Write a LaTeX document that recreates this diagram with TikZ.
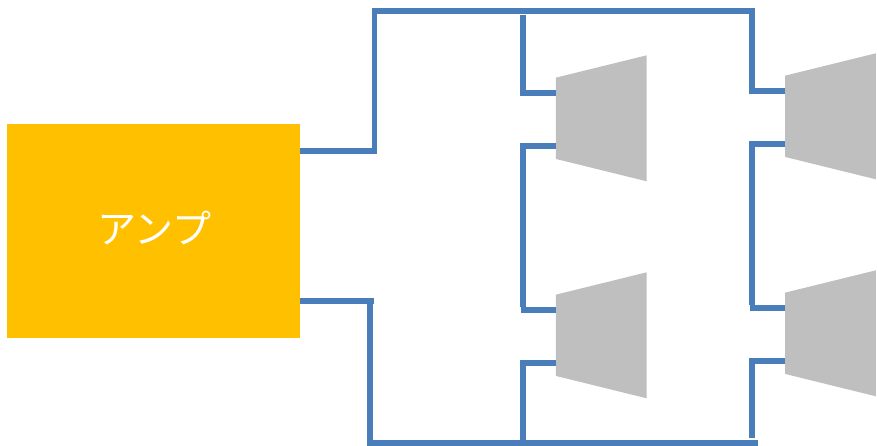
\documentclass[tikz,border=0pt]{standalone}
\usepackage{fontspec}
\newfontfamily\jpfont{Noto Sans CJK JP}
\definecolor{wireblue}{HTML}{4A7EBB}
\definecolor{ampyellow}{HTML}{FFC000}
\definecolor{spkgray}{HTML}{BFBFBF}
\tikzset{
    wire/.style={draw=wireblue, line width=5.5pt},
    ampbox/.style={fill=ampyellow, inner sep=0pt, minimum width=293pt, minimum height=214pt},
    amptext/.style={text=white, inner sep=0pt, font=\jpfont\fontsize{39}{42}\selectfont},
    speaker/.pic={
        \fill[spkgray] (-45.35,-40.65) -- (45.35,-63) -- (45.35,63) -- (-45.35,40.65) -- cycle;
        \coordinate (-a) at (-45.35,-25.3);
        \coordinate (-b) at (-45.35,27.7);
    }
}
\begin{document}
\begin{tikzpicture}[x=1pt, y=-1pt]
            \useasboundingbox (0,0) rectangle (877,446);

            \node[ampbox] (amp) at (153.5,231) {};
            \node[amptext] (amplabel) at (154.5,228) {アンプ};
            \pic (spkul) at (601.3,118.3) {speaker};
            \pic (spkur) at (830.5,116.3) {speaker};
            \pic (spkll) at (601.3,335.3) {speaker};
            \pic (spklr) at (830.5,333.3) {speaker};

            \coordinate (ampa) at (amp.east |- 0,151);
            \coordinate (ampb) at (amp.east |- 0,301);

            \draw[wire] (ampa) -- (374.5,151) -- (374.5,11) -- (752,11) -- (752,91) -- (spkur-a);
            \draw[wire] (523,15) -- (523,93) -- (spkul-a);
            \draw[wire] (spkul-b) -- (523,146) -- (523,307);
            \draw[wire] (521,310) -- (spkll-a);
            \draw[wire] (spkll-b) -- (523,363) -- (523,443);
            \draw[wire] (spkur-b) -- (752,144) -- (752,305);
            \draw[wire] (750,308) -- (spklr-a);
            \draw[wire] (spklr-b) -- (752,361) -- (752,438);
            \draw[wire] (ampb) -- (374,301);
            \draw[wire] (370,301) -- (370,443) -- (758,443);
        \end{tikzpicture}
\end{document}
